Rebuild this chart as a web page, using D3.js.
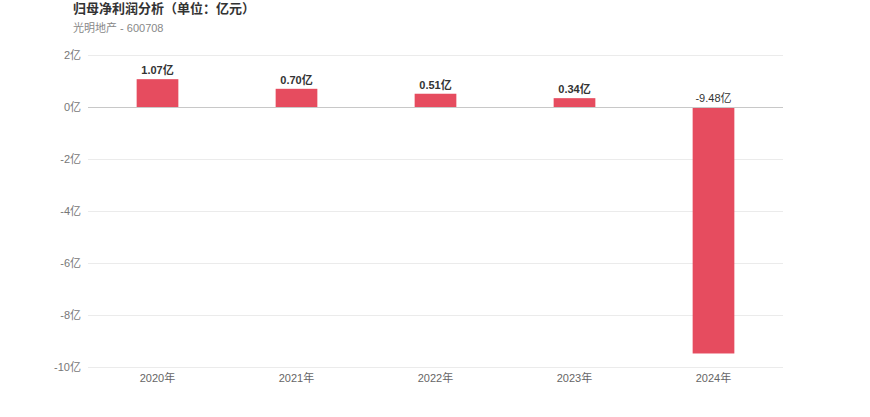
<!DOCTYPE html>
<html>
<head>
<meta charset="utf-8">
<script src="https://cdn.jsdelivr.net/npm/d3@7"></script>
<style>
  body { margin: 0; background: #fff; font-family: "Liberation Sans", "Noto Sans CJK SC", sans-serif; }
</style>
</head>
<body>
<div id="wrapper"></div>
<script>
const years = ['2020年', '2021年', '2022年', '2023年', '2024年'];
const profit = [1.07, 0.70, 0.51, 0.34, -9.48];
const yTicks = [2, 0, -2, -4, -6, -8, -10];

const dimensions = {
  width: 870,
  height: 417,
  margin: { top: 55, right: 87, bottom: 50, left: 88 },
};
dimensions.boundedWidth = dimensions.width - dimensions.margin.left - dimensions.margin.right;
dimensions.boundedHeight = dimensions.height - dimensions.margin.top - dimensions.margin.bottom;

const svg = d3.select('#wrapper')
  .append('svg')
  .attr('width', dimensions.width)
  .attr('height', dimensions.height);

svg.append('text')
  .attr('x', 73).attr('y', 13)
  .attr('font-size', 13).attr('font-weight', 'bold').attr('fill', '#333')
  .text('归母净利润分析（单位：亿元）');

svg.append('text')
  .attr('x', 73).attr('y', 32)
  .attr('font-size', 11).attr('fill', '#888')
  .text('光明地产 - 600708');

const bounds = svg.append('g')
  .attr('transform', `translate(${dimensions.margin.left},${dimensions.margin.top})`);

const xScale = d3.scaleBand()
  .domain(years)
  .range([0, dimensions.boundedWidth])
  .paddingInner(0.7)
  .paddingOuter(0.35);

const yScale = d3.scaleLinear()
  .domain([-10, 2])
  .range([312, 0]);

// grid
bounds.selectAll('.grid')
  .data(yTicks.filter(d => d !== 0))
  .enter().append('line')
  .attr('x1', 0).attr('x2', dimensions.boundedWidth)
  .attr('y1', d => yScale(d) + 0.5).attr('y2', d => yScale(d) + 0.5)
  .attr('stroke', '#ebebeb');

// y labels
bounds.selectAll('.ylab')
  .data(yTicks)
  .enter().append('text')
  .attr('x', -7).attr('y', d => yScale(d) + 4)
  .attr('text-anchor', 'end')
  .attr('font-size', 11).attr('fill', '#777')
  .text(d => d + '亿');

// bars
bounds.selectAll('.bar')
  .data(profit)
  .enter().append('rect')
  .attr('x', (d, i) => xScale(years[i]))
  .attr('width', xScale.bandwidth())
  .attr('y', d => yScale(Math.max(0, d)))
  .attr('height', d => Math.abs(yScale(d) - yScale(0)))
  .attr('fill', '#e64c5f');

// zero line
bounds.append('line')
  .attr('x1', 0).attr('x2', dimensions.boundedWidth)
  .attr('y1', yScale(0) + 0.5).attr('y2', yScale(0) + 0.5)
  .attr('stroke', '#c8c8c8');

// value labels
bounds.selectAll('.vlab')
  .data(profit)
  .enter().append('text')
  .attr('x', (d, i) => xScale(years[i]) + xScale.bandwidth() / 2)
  .attr('y', d => (d >= 0 ? yScale(d) : yScale(0)) - 5)
  .attr('text-anchor', 'middle')
  .attr('font-size', 11)
  .attr('font-weight', d => d >= 0 ? 'bold' : 'normal')
  .attr('fill', '#333')
  .text(d => d.toFixed(2) + '亿');

// x labels
bounds.selectAll('.xlab')
  .data(years)
  .enter().append('text')
  .attr('x', d => xScale(d) + xScale.bandwidth() / 2)
  .attr('y', 312 + 15)
  .attr('text-anchor', 'middle')
  .attr('font-size', 11).attr('fill', '#666')
  .text(d => d);
</script>
</body>
</html>
